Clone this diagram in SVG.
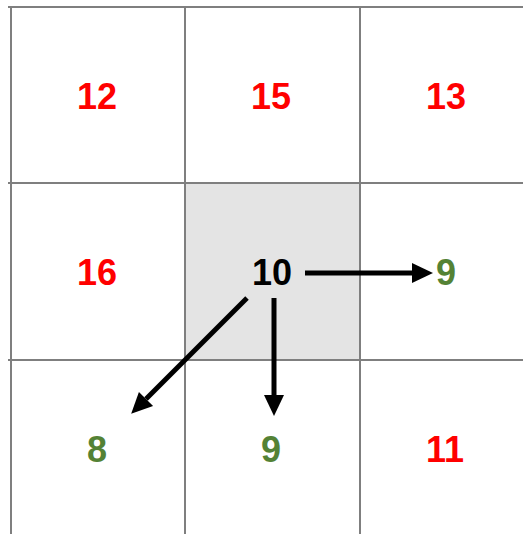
<svg xmlns="http://www.w3.org/2000/svg" width="523" height="534" viewBox="0 0 523 534">
<defs>
<style>
.grid{stroke:#7f7f7f;stroke-width:2;fill:none}
.t{font-family:"Liberation Sans",Arial,sans-serif;font-weight:bold;font-size:36px;text-anchor:middle}
.red{fill:#ff0000}
.grn{fill:#548235}
.blk{fill:#000000}
.arr{stroke:#000;stroke-width:5;fill:none;marker-end:url(#ah)}
</style>
<marker id="ah" markerUnits="userSpaceOnUse" markerWidth="22" markerHeight="22" refX="0" refY="10" orient="auto" viewBox="0 0 22 20">
<path d="M0,0 L21,10 L0,20 Z" fill="#000"/>
</marker>
</defs>
<rect width="523" height="534" fill="#ffffff"/>
<rect x="185" y="183" width="175" height="177" fill="#e4e4e4"/>
<g id="grid">
<line class="grid" x1="8" y1="7" x2="523" y2="7"/>
<line class="grid" x1="8" y1="183" x2="523" y2="183"/>
<line class="grid" x1="8" y1="360" x2="523" y2="360"/>
<line class="grid" x1="11" y1="7" x2="11" y2="534"/>
<line class="grid" x1="185" y1="7" x2="185" y2="534"/>
<line class="grid" x1="360" y1="7" x2="360" y2="534"/>
</g>
<g id="n12"><text class="t red" x="97" y="109">12</text></g>
<g id="n15"><text class="t red" x="271" y="109">15</text></g>
<g id="n13"><text class="t red" x="446" y="109">13</text></g>
<g id="n16"><text class="t red" x="97" y="285">16</text></g>
<g id="n10"><text class="t blk" x="272" y="285">10</text></g>
<g id="n9r"><text class="t grn" x="446" y="285">9</text></g>
<g id="n8"><text class="t grn" x="97" y="462">8</text></g>
<g id="n9b"><text class="t grn" x="271" y="462">9</text></g>
<g id="n11"><text class="t red" x="445" y="462">11</text></g>
<g id="connectors">
<line class="arr" x1="305" y1="273" x2="412" y2="273"/>
<line class="arr" x1="274" y1="298" x2="274" y2="395"/>
<line class="arr" x1="247" y1="298" x2="146" y2="399"/>
</g>
</svg>
